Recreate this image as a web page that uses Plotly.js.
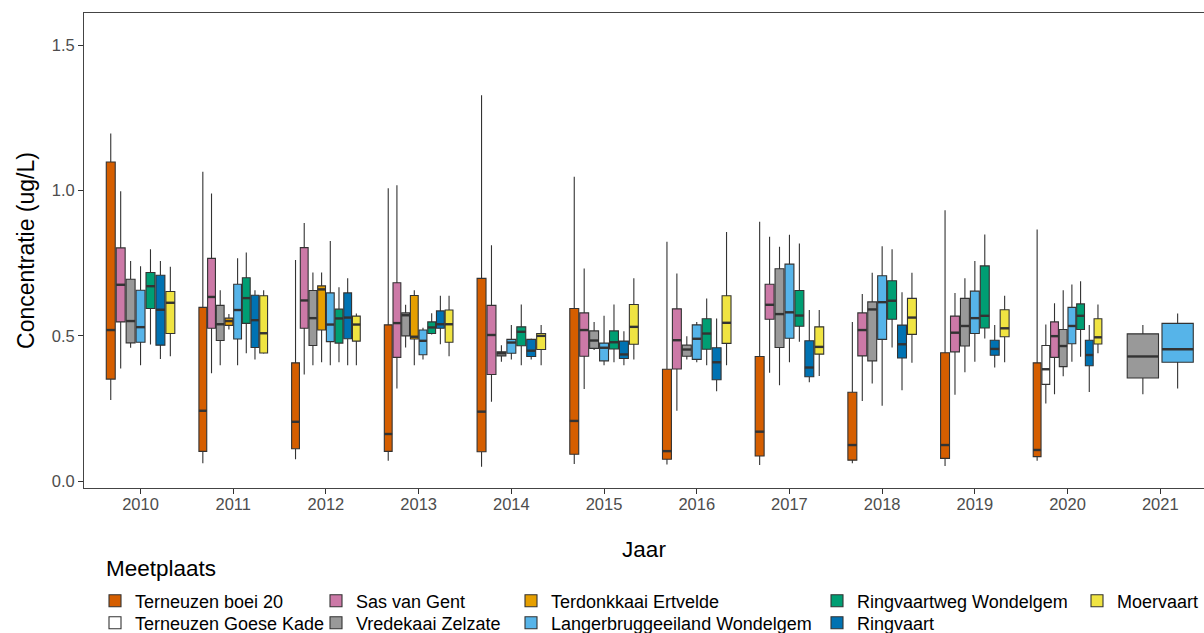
<!DOCTYPE html>
<html><head><meta charset="utf-8">
<script src="https://cdn.plot.ly/plotly-3.0.1.min.js"></script>
<style>html,body{margin:0;padding:0;background:#fff}#chart{width:1204px;height:633px}</style>
</head><body><div id="chart"></div>
<script>
// Years (x categories)
const YEARS = [2010,2011,2012,2013,2014,2015,2016,2017,2018,2019,2020,2021];
const YEAR_LABELS = ['2010','2011','2012','2013','2014','2015','2016','2017','2018','2019','2020','2021'];

// Series names (legend order)
const SERIES_NAMES = ['Terneuzen boei 20','Terneuzen Goese Kade','Sas van Gent','Vredekaai Zelzate',
  'Terdonkkaai Ertvelde','Langerbruggeeiland Wondelgem','Ringvaartweg Wondelgem','Ringvaart','Moervaart'];
const SERIES_COLORS = ['#D55E00','#FFFFFF','#CC79A7','#999999','#E69F00','#56B4E9','#009E73','#0072B2','#F0E442'];

// Per year: [lower whisker, Q1, median, Q3, upper whisker]; null = no measurements
const terneuzenBoei20 = [
  [0.279,0.351,0.520,1.099,1.197],[0.061,0.102,0.242,0.598,1.065],[0.075,0.111,0.204,0.407,0.761],
  [0.070,0.102,0.162,0.538,1.008],[0.049,0.101,0.239,0.698,1.329],[0.059,0.092,0.207,0.594,1.048],
  [0.057,0.075,0.103,0.385,0.824],[0.055,0.086,0.170,0.429,0.893],[0.061,0.072,0.124,0.306,0.548],
  [0.052,0.078,0.124,0.442,0.933],[0.070,0.084,0.107,0.407,0.866],null];
const terneuzenGoeseKade = [null,null,null,null,null,null,null,null,null,null,
  [0.267,0.333,0.385,0.467,0.539],null];
const sasVanGent = [
  [0.388,0.548,0.676,0.803,0.998],[0.371,0.526,0.634,0.767,0.990],[0.367,0.526,0.622,0.804,0.889],
  [0.319,0.426,0.544,0.683,1.019],[0.273,0.367,0.503,0.605,0.812],[0.317,0.430,0.520,0.579,0.732],
  [0.242,0.386,0.485,0.593,0.715],[0.373,0.557,0.607,0.678,0.841],[0.276,0.431,0.520,0.579,0.644],
  [0.297,0.445,0.511,0.568,0.648],[0.299,0.426,0.499,0.548,0.612],null];
const vredekaaiZelzate = [
  [0.459,0.476,0.551,0.695,0.758],[0.399,0.484,0.540,0.605,0.657],[0.399,0.467,0.561,0.656,0.718],
  [0.460,0.500,0.571,0.579,0.607],[0.411,0.431,0.440,0.445,0.468],[0.451,0.457,0.484,0.517,0.548],
  [0.419,0.430,0.453,0.468,0.499],[0.330,0.460,0.575,0.731,0.807],[0.336,0.414,0.591,0.617,0.717],
  [0.375,0.465,0.534,0.629,0.698],[0.361,0.394,0.465,0.522,0.657],[0.299,0.355,0.429,0.507,0.537]];
const terdonkkaaiErtvelde = [null,
  [0.522,0.536,0.551,0.561,0.575],[0.409,0.520,0.660,0.672,0.718],[0.399,0.489,0.497,0.639,0.657],
  null,null,null,null,null,null,null,null];
const langerbruggeeiland = [
  [0.399,0.478,0.530,0.657,0.740],[0.399,0.489,0.589,0.678,0.767],[0.399,0.480,0.539,0.648,0.827],
  [0.419,0.435,0.483,0.520,0.528],[0.419,0.440,0.477,0.488,0.537],[0.399,0.414,0.459,0.475,0.569],
  [0.409,0.419,0.490,0.538,0.548],[0.409,0.492,0.581,0.747,0.848],[0.259,0.488,0.616,0.707,0.809],
  [0.411,0.508,0.561,0.654,0.758],[0.411,0.473,0.534,0.598,0.677],[0.319,0.409,0.454,0.543,0.577]];
const ringvaartwegWondelgem = [
  [0.470,0.594,0.671,0.718,0.798],[0.440,0.543,0.630,0.700,0.787],[0.409,0.475,0.560,0.592,0.667],
  [0.505,0.508,0.529,0.548,0.578],[0.399,0.466,0.514,0.531,0.608],[0.409,0.455,0.478,0.517,0.608],
  [0.399,0.454,0.508,0.559,0.629],[0.480,0.533,0.570,0.656,0.818],[0.460,0.557,0.621,0.690,0.798],
  [0.491,0.527,0.569,0.741,0.849],[0.428,0.522,0.569,0.610,0.688],null];
const ringvaart = [
  [0.420,0.468,0.590,0.709,0.758],[0.419,0.460,0.554,0.640,0.657],[0.399,0.490,0.563,0.648,0.698],
  [0.471,0.526,0.540,0.586,0.638],[0.419,0.429,0.449,0.488,0.491],[0.399,0.422,0.436,0.482,0.516],
  [0.309,0.349,0.409,0.459,0.560],[0.340,0.359,0.391,0.483,0.589],[0.313,0.424,0.471,0.537,0.650],
  [0.391,0.433,0.455,0.485,0.537],[0.307,0.397,0.434,0.485,0.537],null];
const moervaart = [
  [0.430,0.508,0.614,0.653,0.738],[0.438,0.441,0.509,0.638,0.657],[0.399,0.482,0.539,0.568,0.577],
  [0.430,0.478,0.540,0.589,0.638],[0.399,0.453,0.500,0.508,0.537],[0.419,0.471,0.531,0.608,0.698],
  [0.399,0.474,0.545,0.638,0.858],[0.362,0.437,0.462,0.531,0.589],[0.407,0.505,0.563,0.629,0.717],
  [0.409,0.497,0.526,0.590,0.638],[0.440,0.472,0.495,0.559,0.608],null];

const SERIES_DATA = [terneuzenBoei20, terneuzenGoeseKade, sasVanGent, vredekaaiZelzate,
  terdonkkaaiErtvelde, langerbruggeeiland, ringvaartwegWondelgem, ringvaart, moervaart];

// ---- layout constants (not data) ----
const FONT = 'Liberation Sans, Arial, sans-serif';
const W = 1204, H = 633;
const M = {l:84, r:0, t:13, b:145, autoexpand:false};
const PW = W - M.l - M.r, PH = H - M.t - M.b;
const DODGE = 0.75, PAD = 0.1;

const traces = [];
const shown = {};
const medX = [], medY = [];
YEARS.forEach((yr, yi) => {
  const present = [];
  SERIES_DATA.forEach((arr, s) => { if (arr[yi]) present.push(s); });
  const n = present.length;
  const slot = DODGE / n;
  present.forEach((s, k) => {
    const d = SERIES_DATA[s][yi];
    const pos = yr - DODGE/2 + slot*(k + 0.5);
    const bw = slot * (1 - PAD);
    const legendId = s === 0 ? 'legend' : 'legend' + (s + 1);
    traces.push({
      type: 'box',
      x: [pos],
      lowerfence: [d[0]], q1: [d[1]], median: [d[2]], q3: [d[3]], upperfence: [d[4]],
      width: bw,
      name: SERIES_NAMES[s],
      legendgroup: SERIES_NAMES[s],
      legend: legendId,
      showlegend: !shown[s],
      fillcolor: SERIES_COLORS[s],
      line: {color: '#333333', width: 1.1},
      whiskerwidth: 0,
      boxpoints: false,
      hoverinfo: 'skip'
    });
    shown[s] = true;
    // thicker median bar (ggplot style), derived from the same data
    medX.push(pos - bw/2, pos + bw/2, null);
    medY.push(d[2], d[2], null);
  });
});
traces.push({
  type: 'scatter', mode: 'lines', x: medX, y: medY,
  line: {color: '#333333', width: 2.4}, showlegend: false, hoverinfo: 'skip', connectgaps: false
});

const colTextX = [135, 356, 551, 857, 1117];
const rowY = [601, 623];
const layout = {
  width: W, height: H,
  margin: M,
  paper_bgcolor: '#ffffff', plot_bgcolor: '#ffffff',
  font: {family: FONT, color: '#000'},
  showlegend: true,
  boxmode: 'overlay',
  xaxis: {
    range: [2009.39, 2009.39 + PW/92.7],
    tickvals: YEARS, ticktext: YEAR_LABELS,
    ticks: 'outside', ticklen: 5, tickcolor: '#333333', tickwidth: 1,
    ticklabelstandoff: -4,
    tickfont: {family: FONT, size: 16.5, color: '#4D4D4D'},
    showgrid: false, zeroline: false,
    showline: true, linecolor: '#444444', linewidth: 1, mirror: true,
    title: {text: 'Jaar', font: {family: FONT, size: 22.5, color: '#000'}, standoff: 29},
    automargin: false
  },
  yaxis: {
    range: [-0.024, 1.612],
    tickvals: [0, 0.5, 1, 1.5], ticktext: ['0.0','0.5','1.0','1.5'],
    ticks: 'outside', ticklen: 5, tickcolor: '#333333', tickwidth: 1,
    tickfont: {family: FONT, size: 16.5, color: '#4D4D4D'},
    showgrid: false, zeroline: false,
    showline: true, linecolor: '#444444', linewidth: 1, mirror: true,
    title: {text: 'Concentratie (ug/L)', font: {family: FONT, size: 23, color: '#000'}, standoff: 10},
    automargin: false
  },
  annotations: [{
    text: 'Meetplaats', xref: 'paper', yref: 'paper',
    x: (104 - M.l)/PW, y: (H - M.b - 568)/PH, xanchor: 'left', yanchor: 'middle',
    showarrow: false, font: {family: FONT, size: 22.5, color: '#000'}
  }]
};
SERIES_NAMES.forEach((nm, s) => {
  const col = Math.floor(s/2), row = s % 2;
  const id = s === 0 ? 'legend' : 'legend' + (s + 1);
  layout[id] = {
    x: (colTextX[col] - 40 - M.l)/PW,
    y: (H - M.b - rowY[row])/PH,
    xanchor: 'left', yanchor: 'middle',
    orientation: 'v',
    bgcolor: 'rgba(0,0,0,0)', borderwidth: 0,
    font: {family: FONT, size: 18, color: '#000'},
    itemwidth: 30
  };
});

Plotly.newPlot('chart', traces, layout, {displayModeBar: false, responsive: false});
</script></body></html>
